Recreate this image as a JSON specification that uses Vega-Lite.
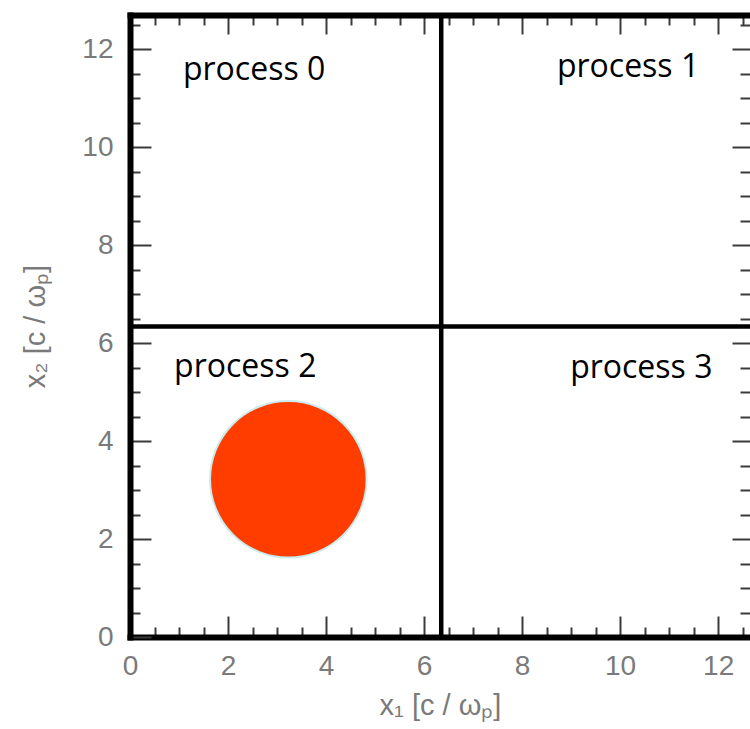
{
  "$schema": "https://vega.github.io/schema/vega-lite/v6.json",
  "width": 620,
  "height": 622,
  "autosize": {"type": "none"},
  "padding": {"left": 130, "top": 15, "right": 0, "bottom": 92},
  "background": "white",
  "config": {
    "view": {"stroke": null},
    "axis": {"grid": false, "labelFont": "Liberation Sans", "titleFont": "Liberation Sans"}
  },
  "datasets": {
    "blob": [{"x1": 3.23, "x2": 3.22}],
    "vdiv": [{"x1": 6.35, "y0": 0, "y1": 12.7}],
    "hdiv": [{"x2": 6.34, "x0": 0, "xe": 12.65}],
    "labels": [
      {"label": "process 0", "x": 1.08, "y": 11.37},
      {"label": "process 1", "x": 8.71, "y": 11.43},
      {"label": "process 2", "x": 0.9, "y": 5.31},
      {"label": "process 3", "x": 8.98, "y": 5.29}
    ]
  },
  "resolve": {"axis": {"x": "independent", "y": "independent"}},
  "layer": [
    {
      "data": {"name": "blob"},
      "mark": {"type": "point", "filled": true, "shape": "circle", "size": 24500, "color": "#ff3d00", "opacity": 1, "stroke": "#c9ecec", "strokeWidth": 2},
      "encoding": {
        "x": {
          "field": "x1", "type": "quantitative",
          "scale": {"domain": [0, 12.65], "nice": false, "zero": false},
          "axis": {"orient": "bottom", "values": [0, 2, 4, 6, 8, 10, 12], "ticks": false, "tickSize": 0, "domain": false,
                   "labelPadding": 15, "labelFontSize": 28, "labelColor": "#7a7a7a", "labelFlush": false,
                   "title": "x₁ [c / ωₚ]", "titleFontSize": 29, "titleColor": "#7a7a7a", "titleFontWeight": "normal", "titlePadding": 11}
        },
        "y": {
          "field": "x2", "type": "quantitative",
          "scale": {"domain": [0, 12.7], "nice": false, "zero": false},
          "axis": {"orient": "left", "values": [0, 2, 4, 6, 8, 10, 12], "ticks": false, "tickSize": 0, "domain": false,
                   "labelPadding": 17, "labelFontSize": 28, "labelColor": "#7a7a7a", "labelFlush": false,
                   "title": "x₂ [c / ωₚ]", "titleFontSize": 29, "titleColor": "#7a7a7a", "titleFontWeight": "normal", "titlePadding": 31}
        }
      }
    },
    {
      "data": {"name": "vdiv"},
      "mark": {"type": "rule", "strokeWidth": 4.5, "color": "black"},
      "encoding": {
        "x": {
          "field": "x1", "type": "quantitative",
          "scale": {"domain": [0, 12.65], "nice": false, "zero": false},
          "axis": {"orient": "bottom", "values": [0, 0.5, 1, 1.5, 2, 2.5, 3, 3.5, 4, 4.5, 5, 5.5, 6, 6.5, 7, 7.5, 8, 8.5, 9, 9.5, 10, 10.5, 11, 11.5, 12, 12.5],
                   "labels": false, "ticks": true,
                   "tickSize": {"condition": {"test": "datum.value % 2 === 0", "value": -21}, "value": -10},
                   "tickColor": "#3a3a3a", "tickWidth": 2,
                   "domain": true, "domainColor": "black", "domainWidth": 6, "domainCap": "square", "title": null}
        },
        "y": {
          "field": "y0", "type": "quantitative",
          "scale": {"domain": [0, 12.7], "nice": false, "zero": false},
          "axis": {"orient": "left", "values": [0, 0.5, 1, 1.5, 2, 2.5, 3, 3.5, 4, 4.5, 5, 5.5, 6, 6.5, 7, 7.5, 8, 8.5, 9, 9.5, 10, 10.5, 11, 11.5, 12, 12.5],
                   "labels": false, "ticks": true,
                   "tickSize": {"condition": {"test": "datum.value % 2 === 0", "value": -21}, "value": -10},
                   "tickColor": "#3a3a3a", "tickWidth": 2,
                   "domain": true, "domainColor": "black", "domainWidth": 6, "domainCap": "square", "title": null}
        },
        "y2": {"field": "y1"}
      }
    },
    {
      "data": {"name": "hdiv"},
      "mark": {"type": "rule", "strokeWidth": 4.5, "color": "black"},
      "encoding": {
        "x": {
          "field": "x0", "type": "quantitative",
          "scale": {"domain": [0, 12.65], "nice": false, "zero": false},
          "axis": {"orient": "top", "values": [0, 0.5, 1, 1.5, 2, 2.5, 3, 3.5, 4, 4.5, 5, 5.5, 6, 6.5, 7, 7.5, 8, 8.5, 9, 9.5, 10, 10.5, 11, 11.5, 12, 12.5],
                   "labels": false, "ticks": true,
                   "tickSize": {"condition": {"test": "datum.value % 2 === 0", "value": -19}, "value": -10},
                   "tickColor": "#3a3a3a", "tickWidth": 2,
                   "domain": true, "domainColor": "black", "domainWidth": 6, "domainCap": "square", "title": null}
        },
        "x2": {"field": "xe"},
        "y": {
          "field": "x2", "type": "quantitative",
          "scale": {"domain": [0, 12.7], "nice": false, "zero": false},
          "axis": {"orient": "left", "offset": -620, "values": [0.5, 1, 1.5, 2, 2.5, 3, 3.5, 4, 4.5, 5, 5.5, 6, 6.5, 7, 7.5, 8, 8.5, 9, 9.5, 10, 10.5, 11, 11.5, 12, 12.5],
                   "labels": false, "ticks": true,
                   "tickSize": {"condition": {"test": "datum.value % 2 === 0", "value": 18}, "value": 10},
                   "tickColor": "#3a3a3a", "tickWidth": 2,
                   "domain": false, "title": null}
        }
      }
    },
    {
      "data": {"name": "labels"},
      "mark": {"type": "text", "align": "left", "baseline": "alphabetic", "font": "Open Sans", "fontSize": 32, "color": "black"},
      "encoding": {
        "x": {"field": "x", "type": "quantitative", "scale": {"domain": [0, 12.65], "nice": false, "zero": false}, "axis": null},
        "y": {"field": "y", "type": "quantitative", "scale": {"domain": [0, 12.7], "nice": false, "zero": false}, "axis": null},
        "text": {"field": "label"}
      }
    }
  ]
}
